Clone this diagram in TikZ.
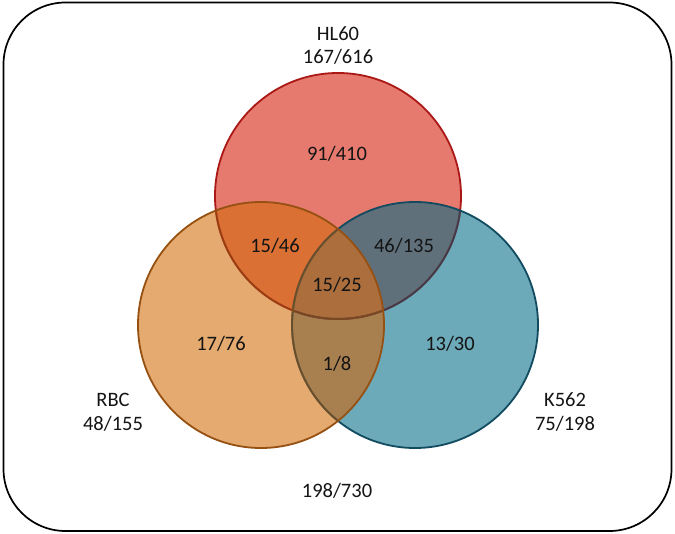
\documentclass[tikz,border=0pt]{standalone}
\usepackage{fontspec}
\setmainfont{Carlito}
\definecolor{hlfill}{RGB}{230,122,110}
\definecolor{rbcfill}{RGB}{228,170,112}
\definecolor{kfill}{RGB}{108,170,186}
\definecolor{hlrbc}{RGB}{218,112,52}
\definecolor{hlk}{RGB}{96,112,122}
\definecolor{rbck}{RGB}{168,128,80}
\definecolor{allthree}{RGB}{172,110,60}
\definecolor{hledge}{RGB}{170,25,22}
\definecolor{rbcedge}{RGB}{150,80,18}
\definecolor{kedge}{RGB}{18,75,95}
\definecolor{txt}{RGB}{20,20,20}
\tikzset{
  lbl/.style={font=\fontsize{20.5bp}{22bp}\selectfont, text=txt, inner sep=0pt, align=center},
  ring/.style={line width=1.8bp},
  tint/.style={line width=2bp, draw opacity=0.65},
}
\begin{document}
\begin{tikzpicture}[x=1bp,y=-1bp]
\useasboundingbox (0,0) rectangle (675,534);
\draw[line width=1.7bp, rounded corners=62bp] (3.5,2.5) rectangle (671.5,531);
\coordinate (H) at (338,196);
\coordinate (R) at (261,325);
\coordinate (K) at (415,325);
\def\rad{123bp}
% single fills
\fill[hlfill] (H) circle[radius=\rad];
\fill[rbcfill] (R) circle[radius=\rad];
\fill[kfill] (K) circle[radius=\rad];
% pairwise
\begin{scope}
  \clip (H) circle[radius=\rad];
  \fill[hlrbc] (R) circle[radius=\rad];
  \fill[hlk] (K) circle[radius=\rad];
\end{scope}
\begin{scope}
  \clip (R) circle[radius=\rad];
  \fill[rbck] (K) circle[radius=\rad];
\end{scope}
\begin{scope}
  \clip (H) circle[radius=\rad];
  \clip (R) circle[radius=\rad];
  \fill[allthree] (K) circle[radius=\rad];
\end{scope}
% outlines, bottom to top: HL60, K562, RBC
\draw[ring, hledge] (H) circle[radius=\rad];
\begin{scope}
  \clip (K) circle[radius=\rad];
  \draw[tint, kedge] (H) circle[radius=\rad];
\end{scope}
\draw[ring, kedge] (K) circle[radius=\rad];
\begin{scope}
  \clip (R) circle[radius=\rad];
  \draw[tint, rbcedge] (H) circle[radius=\rad];
  \draw[tint, rbcedge] (K) circle[radius=\rad];
\end{scope}
\draw[ring, rbcedge] (R) circle[radius=\rad];
% labels
\node[lbl] (hlname) at (338,34) {HL60};
\node[lbl] (hltot) at (338,57) {167/616};
\node[lbl] (hlonly) at (337,154) {91/410};
\node[lbl] (hlr) at (275,246) {15/46};
\node[lbl] (hlkl) at (404,246) {46/135};
\node[lbl] (center) at (337,285) {15/25};
\node[lbl] (ronly) at (221,344) {17/76};
\node[lbl] (rk) at (337,364) {1/8};
\node[lbl] (konly) at (450,344) {13/30};
\node[lbl] (rname) at (113,400) {RBC};
\node[lbl] (rtot) at (113,424) {48/155};
\node[lbl] (kname) at (565,400) {K562};
\node[lbl] (ktot) at (565,424) {75/198};
\node[lbl] (total) at (337,491) {198/730};
\end{tikzpicture}
\end{document}
